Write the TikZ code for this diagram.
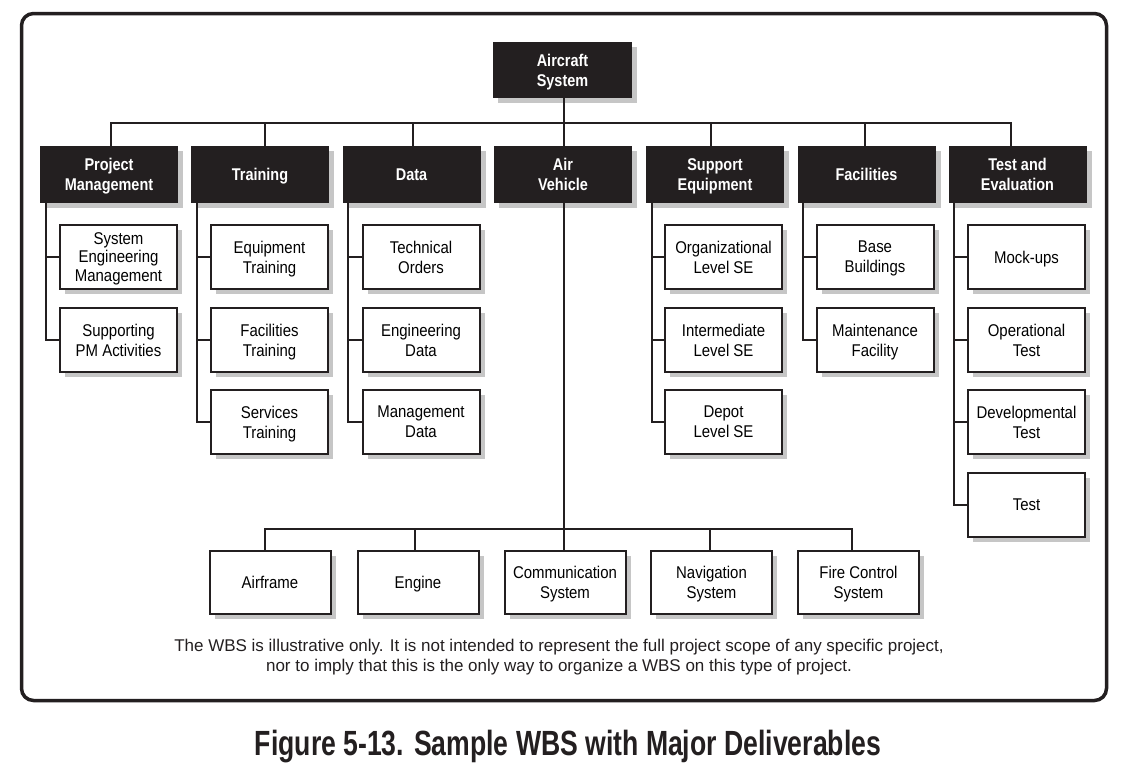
\documentclass[tikz,border=0pt]{standalone}
\usepackage{fontspec}
\setmainfont{Liberation Sans}
\newfontfamily\boxfont{Liberation Sans}[FakeStretch=0.88]
\newfontfamily\capfont{Liberation Sans}
\newfontfamily\headfont{Liberation Sans}[FakeStretch=0.85]
\newfontfamily\titlefont{Liberation Sans}[FakeStretch=0.76]
\usetikzlibrary{shadows}
\definecolor{headblack}{HTML}{231F20}
\definecolor{shadowgray}{HTML}{C6C6C6}
\tikzset{
  sh/.style={drop shadow={shadow xshift=5pt,shadow yshift=-5pt,fill=shadowgray,opacity=1}},
  head/.style={fill=headblack, minimum width=138pt, minimum height=57pt, inner sep=0pt, text depth=0pt,
    text=white, align=center, font=\headfont\bfseries\fontsize{17}{20}\selectfont, sh},
  childbox/.style={draw=headblack, line width=2pt, fill=white, minimum width=117pt, minimum height=64pt,
    inner sep=0pt, text depth=0pt, align=center, font=\boxfont\fontsize{17}{20}\selectfont, sh},
  bottombox/.style={childbox, minimum width=121pt, minimum height=63pt},
  conn/.style={draw=headblack, line width=2pt},
}
\begin{document}
\begin{tikzpicture}[x=1pt,y=-1pt]
\useasboundingbox (0,0) rectangle (1133,777);
\fill[white] (0,0) rectangle (1133,777);
\draw[headblack, line width=3.5pt, rounded corners=12pt] (21.5,13.5) rectangle (1106.5,700.5);

% root
\node[head, minimum width=139pt, minimum height=56pt] (root) at (562.5,70) {Aircraft\\System};

% level 1
\node[head] (pm) at (109,174.5) {Project\\Management};
\node[head] (tr) at (260,174.5) {Training};
\node[head] (da) at (411.5,174.5) {Data};
\node[head] (av) at (563,174.5) {Air\\Vehicle};
\node[head] (se) at (715,174.5) {Support\\Equipment};
\node[head] (fa) at (866.5,174.5) {Facilities};
\node[head] (te) at (1017.5,174.5) {Test and\\Evaluation};

% children
\node[childbox, font=\boxfont\fontsize{17}{18.5}\selectfont] (pm1) at (118.5,257) {System\\Engineering\\Management};
\node[childbox] (pm2) at (118.5,340) {Supporting\\PM Activities};
\node[childbox] (tr1) at (269.5,257) {Equipment\\Training};
\node[childbox] (tr2) at (269.5,340) {Facilities\\Training};
\node[childbox] (tr3) at (269.5,422) {Services\\Training};
\node[childbox] (da1) at (421,257) {Technical\\Orders};
\node[childbox] (da2) at (421,340) {Engineering\\Data};
\node[childbox] (da3) at (421,422) {Management\\Data};
\node[childbox] (se1) at (723.5,257) {Organizational\\Level SE};
\node[childbox] (se2) at (723.5,340) {Intermediate\\Level SE};
\node[childbox] (se3) at (723.5,422) {Depot\\Level SE};
\node[childbox] (fa1) at (875,257) {Base\\Buildings};
\node[childbox] (fa2) at (875,340) {Maintenance\\Facility};
\node[childbox] (te1) at (1026.5,257) {Mock-ups};
\node[childbox] (te2) at (1026.5,340) {Operational\\Test};
\node[childbox] (te3) at (1026.5,422) {Developmental\\Test};
\node[childbox] (te4) at (1026.5,505) {Test};

% air vehicle children
\node[bottombox] (af) at (270,582.5) {Airframe};
\node[bottombox] (en) at (418,582.5) {Engine};
\node[bottombox] (co) at (565,582.5) {Communication\\System};
\node[bottombox] (na) at (711.5,582.5) {Navigation\\System};
\node[bottombox] (fc) at (858.5,582.5) {Fire Control\\System};

% connectors top
\coordinate (topbar) at (564,123);
\draw[conn] (root.south -| topbar) -- (topbar);
\draw[conn] ([xshift=2pt]pm.north) |- (topbar);
\draw[conn] ([xshift=5pt]tr.north) |- (topbar);
\draw[conn] ([xshift=1.5pt]da.north) |- (topbar);
\draw[conn] (av.north -| topbar) -- (topbar);
\draw[conn] ([xshift=-4pt]se.north) |- (topbar);
\draw[conn] ([xshift=-1.5pt]fa.north) |- (topbar);
\draw[conn] ([xshift=-6.5pt]te.north) |- (topbar);

% spines
\foreach \p/\c in {pm/pm1,pm/pm2,tr/tr1,tr/tr2,tr/tr3,da/da1,da/da2,da/da3,se/se1,se/se2,se/se3,fa/fa1,fa/fa2,te/te1,te/te2,te/te3,te/te4}
  \draw[conn] ([xshift=6pt]\p.south west) |- (\c.west);

% air vehicle
\coordinate (avbar) at (564,529);
\draw[conn] (av.south -| avbar) -- (avbar);
\draw[conn] ([xshift=-5pt]af.north) |- (avbar);
\draw[conn] ([xshift=-3pt]en.north) |- (avbar);
\draw[conn] (co.north -| avbar) -- (avbar);
\draw[conn] ([xshift=-1.5pt]na.north) |- (avbar);
\draw[conn] ([xshift=-6.5pt]fc.north) |- (avbar);

% caption
\node[font=\capfont\fontsize{17}{19.5}\selectfont, align=center, text=headblack] (cap) at (559,657)
  {The WBS is illustrative only. It is not intended to represent the full project scope of any specific project,\\
   nor to imply that this is the only way to organize a WBS on this type of project.};
\node[font=\titlefont\bfseries\fontsize{35}{37}\selectfont, text=headblack] (title) at (568,747)
  {Figure 5-13. Sample WBS with Major Deliverables};
\end{tikzpicture}
\end{document}
